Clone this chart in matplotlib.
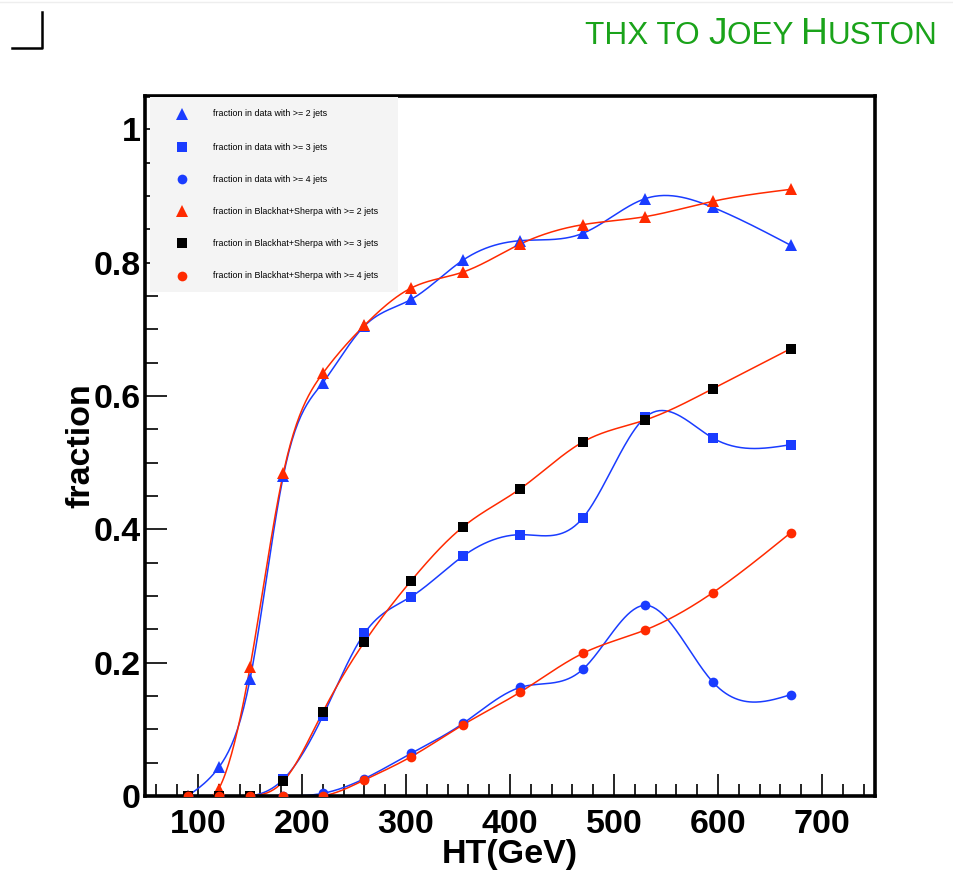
import numpy as np
import matplotlib
matplotlib.use("Agg")
import matplotlib.pyplot as plt
from matplotlib.lines import Line2D
from matplotlib.patches import Rectangle
from matplotlib.ticker import MultipleLocator

# ---------------- data ----------------
ht = [90, 120, 150, 182, 220, 260, 305, 355, 410, 470, 530, 595, 670]

data_2j = [0.0, 0.043, 0.175, 0.480, 0.620, 0.705, 0.745, 0.804, 0.833, 0.844, 0.896, 0.883, 0.826]
data_3j = [0.0, 0.0, 0.0, 0.025, 0.120, 0.244, 0.299, 0.360, 0.392, 0.417, 0.568, 0.537, 0.527]
data_4j = [0.0, 0.0, 0.0, 0.0, 0.004, 0.026, 0.064, 0.109, 0.163, 0.190, 0.286, 0.171, 0.152]

bh_2j = [0.0, 0.011, 0.193, 0.484, 0.634, 0.706, 0.762, 0.786, 0.828, 0.857, 0.869, 0.892, 0.910]
bh_3j = [0.0, 0.0, 0.0, 0.022, 0.126, 0.231, 0.323, 0.404, 0.461, 0.531, 0.564, 0.611, 0.671]
bh_4j = [0.0, 0.0, 0.0, 0.0, 0.0, 0.024, 0.059, 0.107, 0.156, 0.214, 0.249, 0.305, 0.395]

labels = [
    "fraction in data with >= 2 jets",
    "fraction in data with >= 3 jets",
    "fraction in data with >= 4 jets",
    "fraction in Blackhat+Sherpa with >= 2 jets",
    "fraction in Blackhat+Sherpa with >= 3 jets",
    "fraction in Blackhat+Sherpa with >= 4 jets",
]

BLUE = "#1a3cff"
RED = "#ff2a00"
BLACK = "#000000"

series = [
    (data_2j, "^", BLUE, BLUE, 8.5),
    (data_3j, "s", BLUE, BLUE, 6.5),
    (data_4j, "o", BLUE, BLUE, 7.0),
    (bh_2j, "^", RED, RED, 8.5),
    (bh_3j, "s", RED, BLACK, 6.5),
    (bh_4j, "o", RED, RED, 7.0),
]


def natural_spline(x, y, n=400):
    x = np.asarray(x, float)
    y = np.asarray(y, float)
    m = len(x)
    h = np.diff(x)
    A = np.zeros((m, m))
    b = np.zeros(m)
    A[0, 0] = 1
    A[-1, -1] = 1
    for i in range(1, m - 1):
        A[i, i - 1] = h[i - 1]
        A[i, i] = 2 * (h[i - 1] + h[i])
        A[i, i + 1] = h[i]
        b[i] = 6 * ((y[i + 1] - y[i]) / h[i] - (y[i] - y[i - 1]) / h[i - 1])
    M = np.linalg.solve(A, b)
    xs = np.linspace(x[0], x[-1], n)
    idx = np.clip(np.searchsorted(x, xs) - 1, 0, m - 2)
    x0, x1 = x[idx], x[idx + 1]
    y0, y1 = y[idx], y[idx + 1]
    M0, M1 = M[idx], M[idx + 1]
    hh = x1 - x0
    a = x1 - xs
    c = xs - x0
    ys = (M0 * a**3 + M1 * c**3) / (6 * hh) + (y0 / hh - M0 * hh / 6) * a + (y1 / hh - M1 * hh / 6) * c
    return xs, ys


W, H = 954, 871
fig = plt.figure(figsize=(W / 100, H / 100), dpi=100)
fig.patch.set_facecolor("white")

ax_l, ax_r, ax_t, ax_b = 145, 875, 96, 796
ax = fig.add_axes([ax_l / W, (H - ax_b) / H, (ax_r - ax_l) / W, (ax_b - ax_t) / H])

for vals, mk, lc, mc, ms in series:
    xs, ys = natural_spline(ht, vals)
    ax.plot(xs, ys, color=lc, lw=1.1, zorder=2)
for vals, mk, lc, mc, ms in series:
    ax.plot(ht, vals, linestyle="none", marker=mk, color=mc, markersize=ms,
            markeredgewidth=0, zorder=3)

ax.set_xlim(49, 751)
ax.set_ylim(0, 1.05)

ax.xaxis.set_major_locator(MultipleLocator(100))
ax.xaxis.set_minor_locator(MultipleLocator(20))
ax.yaxis.set_minor_locator(MultipleLocator(0.05))
ax.set_yticks([0, 0.2, 0.4, 0.6, 0.8, 1.0])
ax.set_yticklabels(["0", "0.2", "0.4", "0.6", "0.8", "1"])

for s in ax.spines.values():
    s.set_linewidth(2.6)
    s.set_color("black")

ax.tick_params(axis="both", which="major", direction="in", length=16, width=1.2,
               top=False, right=False)
ax.tick_params(axis="both", which="minor", direction="in", length=9, width=1.2,
               top=False, right=False)
ax.tick_params(axis="x", which="major", pad=9)
ax.tick_params(axis="y", which="major", pad=3)
for lab in ax.get_xticklabels() + ax.get_yticklabels():
    lab.set_fontfamily("Liberation Sans")
    lab.set_fontweight("bold")
    lab.set_fontsize(24.5)

ax.set_xlabel("HT(GeV)", fontfamily="Liberation Sans", fontweight="bold", fontsize=24.5)
ax.set_ylabel("fraction", fontfamily="Liberation Sans", fontweight="bold", fontsize=24.5)
ax.xaxis.set_label_coords(0.5, (ax_b - 854) / (ax_b - ax_t))
ax.xaxis.label.set_va("center")
ax.yaxis.set_label_coords((81 - ax_l) / (ax_r - ax_l), 0.5)
ax.yaxis.label.set_va("center")

# legend (manual box)
def ax_fx(px):
    return (px - ax_l) / (ax_r - ax_l)

def ax_fy(py):
    return (ax_b - py) / (ax_b - ax_t)

ax.add_patch(Rectangle((ax_fx(150), ax_fy(292)), ax_fx(398) - ax_fx(150), ax_fy(97) - ax_fy(292),
                       transform=ax.transAxes, facecolor="#f4f4f4", edgecolor="none", zorder=4))
rows = [114, 147, 179, 211, 243, 276]
for (vals, mk, lc, mc, ms), lab, ry in zip(series, labels, rows):
    ax.plot([ax_fx(182)], [ax_fy(ry)], transform=ax.transAxes, linestyle="none", marker=mk,
            color=mc, markersize=ms, markeredgewidth=0, zorder=5, clip_on=False)
    ax.text(ax_fx(213), ax_fy(ry), lab, transform=ax.transAxes, fontsize=6.4,
            family="Liberation Sans", va="center", ha="left",
            color="black", zorder=5)

# top-left corner mark and faint top line
fig.add_artist(Line2D([12 / W, 42 / W, 42 / W], [(H - 48) / H, (H - 48) / H, (H - 12) / H],
                      transform=fig.transFigure, color="black", lw=1.8))
fig.add_artist(Line2D([0, 1], [(H - 2) / H, (H - 2) / H], transform=fig.transFigure,
                      color="#eeeeee", lw=1.0))

# title in small caps, right aligned at x=938
GREEN = "#1aa31a"
pieces = [("THX TO ", 22.7), ("J", 26.8), ("OEY ", 22.7), ("H", 26.8), ("USTON", 22.7)]
fig.canvas.draw()
renderer = fig.canvas.get_renderer()
texts = []
for s, fs in pieces:
    t = fig.text(0, 0, s, fontsize=fs, family="Liberation Sans", color=GREEN,
                 ha="left", va="baseline")
    texts.append(t)
widths = [t.get_window_extent(renderer).width for t in texts]
x = 938 - sum(widths)
for t, w in zip(texts, widths):
    t.set_position((x / W, (H - 44) / H))
    x += w

fig.savefig("out.png", dpi=100, facecolor="white")
